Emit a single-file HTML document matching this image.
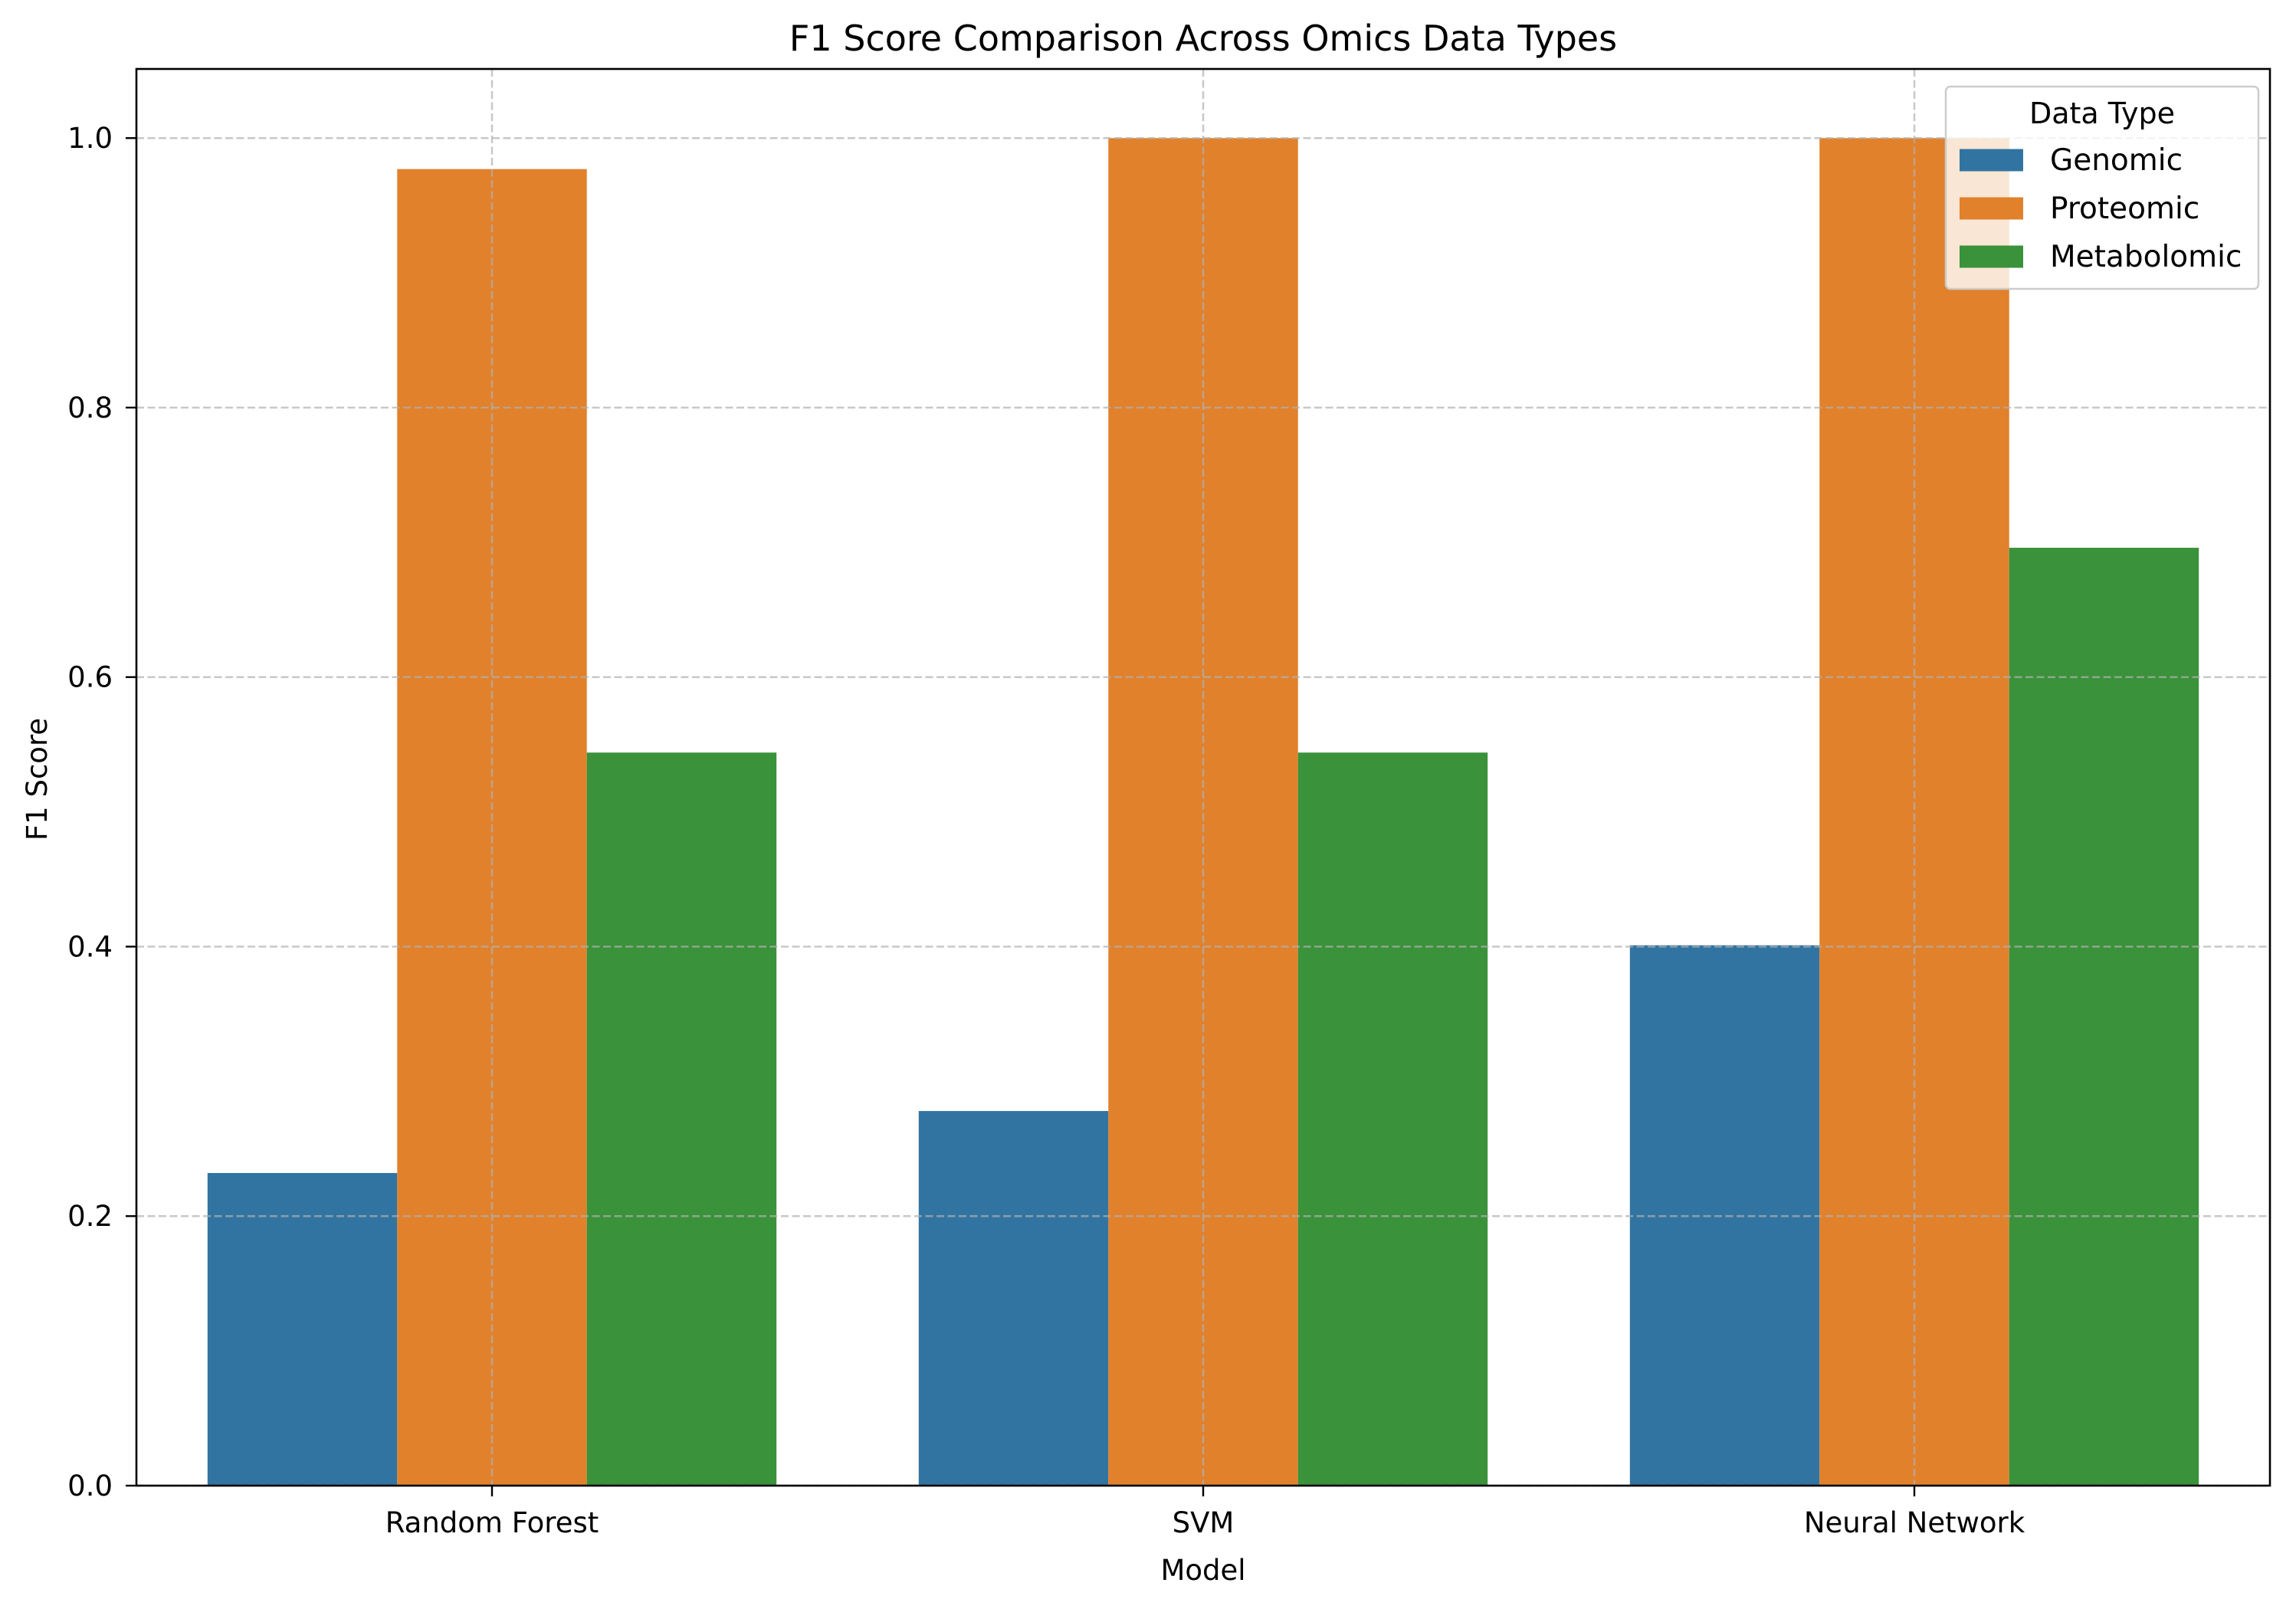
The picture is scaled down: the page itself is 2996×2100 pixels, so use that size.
<!DOCTYPE html>
<html><head><meta charset="utf-8"><style>
html,body{margin:0;padding:0;background:#fff;}
svg{display:block;font-family:"DejaVu Sans","Liberation Sans",sans-serif;}
</style></head><body>
<svg id="chart" width="2996" height="2100" viewBox="0 0 2996 2100" xmlns="http://www.w3.org/2000/svg">
<rect width="2996" height="2100" fill="#fff"/>
<g id="bars"></g>
<g id="grid"></g>
<g id="axes"></g>
<text x="1570" y="66" font-size="46" text-anchor="middle">F1 Score Comparison Across Omics Data Types</text>
<text x="1570" y="2062" font-size="37" text-anchor="middle">Model</text>
<text transform="translate(61,1017) rotate(-90)" font-size="37" text-anchor="middle">F1 Score</text>
<g id="legend"></g>
</svg>
<script>
const categories = ["Random Forest", "SVM", "Neural Network"];
const seriesNames = ["Genomic", "Proteomic", "Metabolomic"];
const genomic = [0.232, 0.278, 0.401];
const proteomic = [0.977, 1.0, 1.0];
const metabolomic = [0.544, 0.544, 0.696];
const yTicks = [0.0, 0.2, 0.4, 0.6, 0.8, 1.0];
const yTickLabels = ["0.0", "0.2", "0.4", "0.6", "0.8", "1.0"];

const colors = ["#3274a1", "#e1812c", "#3a923a"];
const L = 178, R = 2962, T = 90, B = 1939;
const yMax = 1.0513;
const NS = "http://www.w3.org/2000/svg";
function xScale(i){ return L + (i + 0.5) * (R - L) / categories.length; }
function yScale(v){ return B - v / yMax * (B - T); }
function mk(tag, attrs, parent){ const e = document.createElementNS(NS, tag); for (const k in attrs) e.setAttribute(k, attrs[k]); parent.appendChild(e); return e; }

const series = [genomic, proteomic, metabolomic];
const bars = document.getElementById("bars");
const unit = (R - L) / categories.length;
const bw = unit * 0.8 / series.length;
series.forEach((vals, s) => {
  vals.forEach((v, i) => {
    const x = xScale(i) - unit * 0.4 + s * bw;
    const r = mk("rect", {x: x, y: yScale(v), width: bw, height: B - yScale(v), fill: colors[s]}, bars);
    
    
  });
});

const grid = document.getElementById("grid");
yTicks.forEach((t, k) => {
  const y = yScale(t);
  const g = mk("line", {x1: L, x2: R, y1: y, y2: y, stroke: "#b0b0b0", "stroke-opacity": 0.7, "stroke-width": 2.5, "stroke-dasharray": "10,4.5"}, grid);
  
  
});
categories.forEach((c, i) => {
  const x = xScale(i);
  const g = mk("line", {x1: x, x2: x, y1: T, y2: B, stroke: "#b0b0b0", "stroke-opacity": 0.7, "stroke-width": 2.5, "stroke-dasharray": "10,4.5"}, grid);
  
  
});

const axes = document.getElementById("axes");
const frame = mk("rect", {x: L, y: T, width: R - L, height: B - T, fill: "none", stroke: "#000", "stroke-width": 2.6}, axes);


yTicks.forEach((t, k) => {
  const y = yScale(t);
  const tk = mk("line", {x1: L - 14, x2: L, y1: y, y2: y, stroke: "#000", "stroke-width": 2.4}, axes);
  
  
  const lb = mk("text", {x: L - 31, y: y + 13, "font-size": 37, "text-anchor": "end"}, axes);
  lb.textContent = yTickLabels[k];
  
  
});
categories.forEach((c, i) => {
  const x = xScale(i);
  const tk = mk("line", {x1: x, x2: x, y1: B, y2: B + 14, stroke: "#000", "stroke-width": 2.4}, axes);
  
  
  const lb = mk("text", {x: x, y: B + 61, "font-size": 37, "text-anchor": "middle"}, axes);
  lb.textContent = c;
  
  
});

const legend = document.getElementById("legend");
const box = mk("rect", {x: 2539, y: 113, width: 408, height: 264, rx: 6, fill: "#fff", "fill-opacity": 0.8, stroke: "#cccccc", "stroke-width": 2.5}, legend);


const lt = mk("text", {x: 2743, y: 161, "font-size": 38, "text-anchor": "middle"}, legend);
lt.textContent = "Data Type";


seriesNames.forEach((n, s) => {
  const cy = 209 + s * 63;
  const p = mk("rect", {x: 2557, y: cy - 14.5, width: 83, height: 29, fill: colors[s]}, legend);
  
  
  const t = mk("text", {x: 2675, y: cy + 13, "font-size": 39}, legend);
  t.textContent = n;
  
  
});
</script>
</body></html>
